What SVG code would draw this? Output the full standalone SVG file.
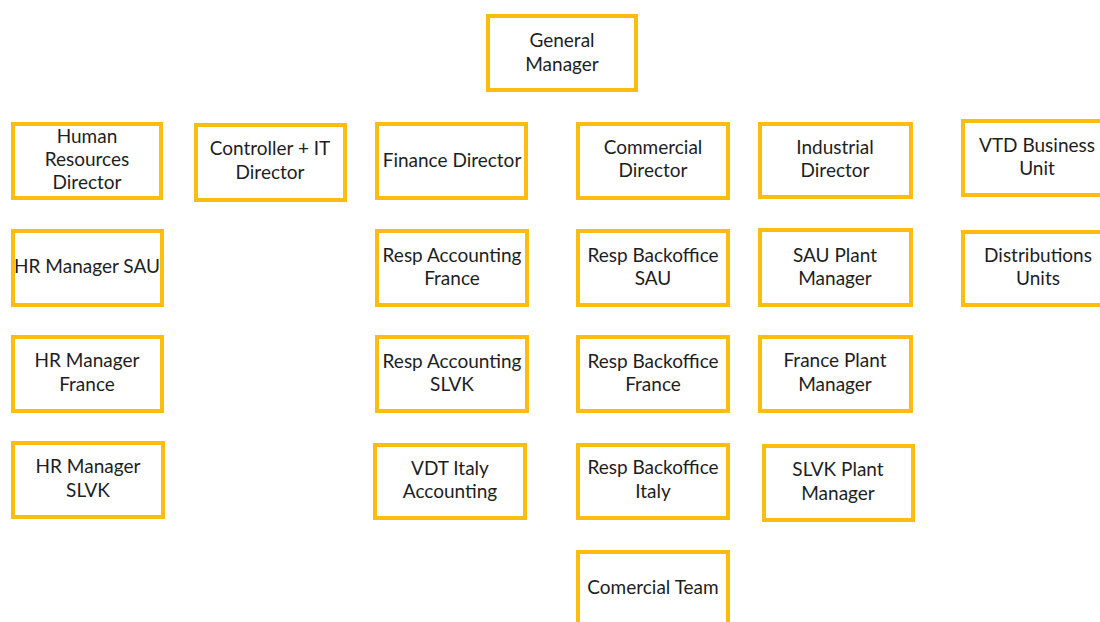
<svg xmlns="http://www.w3.org/2000/svg" width="1100" height="622" viewBox="0 0 1100 622">
<style>
.box{fill:#ffffff;stroke:#FDBD10;stroke-width:4}
.t{font-family:Lato,"Liberation Sans",sans-serif;font-size:19px;fill:#1e1e1e;text-anchor:middle}
</style>
<rect width="1100" height="622" fill="#ffffff"/>
<g id="connectors"/>
<g id="general-manager"><rect class="box" x="488" y="16" width="148" height="74"/><text class="t" x="562" y="47">General</text><text class="t" x="562" y="71">Manager</text></g>
<g id="hr-director"><rect class="box" x="13" y="124" width="148" height="74"/><text class="t" x="87" y="143">Human</text><text class="t" x="87" y="166">Resources</text><text class="t" x="87" y="189">Director</text></g>
<g id="controller-it"><rect class="box" x="196" y="125" width="149" height="75"/><text class="t" x="270" y="155">Controller + IT</text><text class="t" x="270" y="179">Director</text></g>
<g id="finance-director"><rect class="box" x="377" y="124" width="149" height="74"/><text class="t" x="452" y="167">Finance Director</text></g>
<g id="commercial-director"><rect class="box" x="578" y="124" width="150" height="74"/><text class="t" x="653" y="154">Commercial</text><text class="t" x="653" y="177">Director</text></g>
<g id="industrial-director"><rect class="box" x="760" y="124" width="151" height="73"/><text class="t" x="835" y="154">Industrial</text><text class="t" x="835" y="177">Director</text></g>
<g id="vtd-business-unit"><rect class="box" x="963" y="121" width="150" height="74"/><text class="t" x="1037" y="152">VTD Business</text><text class="t" x="1037" y="175">Unit</text></g>
<g id="hr-manager-sau"><rect class="box" x="13" y="231" width="149" height="74"/><text class="t" x="87" y="273">HR Manager SAU</text></g>
<g id="resp-accounting-france"><rect class="box" x="377" y="231" width="150" height="74"/><text class="t" x="452" y="262">Resp Accounting</text><text class="t" x="452" y="285">France</text></g>
<g id="resp-backoffice-sau"><rect class="box" x="578" y="231" width="150" height="74"/><text class="t" x="653" y="262">Resp Backoffice</text><text class="t" x="653" y="285">SAU</text></g>
<g id="sau-plant-manager"><rect class="box" x="760" y="230" width="151" height="75"/><text class="t" x="835" y="262">SAU Plant</text><text class="t" x="835" y="285">Manager</text></g>
<g id="distributions-units"><rect class="box" x="963" y="232" width="150" height="73"/><text class="t" x="1038" y="262">Distributions</text><text class="t" x="1038" y="285">Units</text></g>
<g id="hr-manager-france"><rect class="box" x="13" y="337" width="149" height="74"/><text class="t" x="87" y="367">HR Manager</text><text class="t" x="87" y="391">France</text></g>
<g id="resp-accounting-slvk"><rect class="box" x="377" y="337" width="150" height="74"/><text class="t" x="452" y="368">Resp Accounting</text><text class="t" x="452" y="391">SLVK</text></g>
<g id="resp-backoffice-france"><rect class="box" x="578" y="337" width="150" height="74"/><text class="t" x="653" y="368">Resp Backoffice</text><text class="t" x="653" y="391">France</text></g>
<g id="france-plant-manager"><rect class="box" x="760" y="337" width="151" height="74"/><text class="t" x="835" y="367">France Plant</text><text class="t" x="835" y="391">Manager</text></g>
<g id="hr-manager-slvk"><rect class="box" x="13" y="443" width="150" height="74"/><text class="t" x="88" y="473">HR Manager</text><text class="t" x="88" y="497">SLVK</text></g>
<g id="vdt-italy-accounting"><rect class="box" x="375" y="445" width="150" height="73"/><text class="t" x="450" y="475">VDT Italy</text><text class="t" x="450" y="498">Accounting</text></g>
<g id="resp-backoffice-italy"><rect class="box" x="578" y="445" width="150" height="73"/><text class="t" x="653" y="474">Resp Backoffice</text><text class="t" x="653" y="498">Italy</text></g>
<g id="slvk-plant-manager"><rect class="box" x="764" y="446" width="149" height="74"/><text class="t" x="838" y="476">SLVK Plant</text><text class="t" x="838" y="500">Manager</text></g>
<g id="comercial-team"><rect class="box" x="578" y="552" width="150" height="80"/><text class="t" x="653" y="594">Comercial Team</text></g>
</svg>
